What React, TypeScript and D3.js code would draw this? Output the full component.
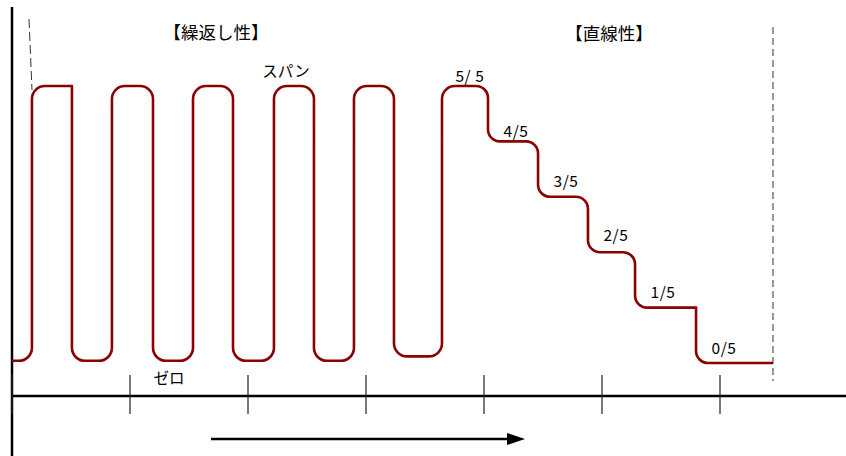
import React from "react";
import * as d3 from "d3";

// ---- data (schematic signal, x in time units, y in fraction-of-span levels) ----
const axisTicks = [0, 10, 20, 30, 40, 50, 60];
const repeatSwitchX = [1.69, 5.08, 8.47, 11.95, 15.34, 18.73, 22.2, 25.59, 28.98, 32.37, 36.44];
const repeatHigh = 5;
const repeatLows = [0.04, 0.04, 0.04, 0.04, 0.04, 0.12];
const stepX = [40.34, 44.58, 48.81, 52.8, 57.97];
const stepLevels = [5, 4, 3, 2, 1, 0];
const stepLabels = ["5/ 5", "4/5", "3/5", "2/5", "1/5", "0/5"];
const signalEndX = 64.49;
const headerLabels = ["【繰返し性】", "【直線性】"];
const spanLabel = "スパン";
const zeroLabel = "ゼロ";

// ---- layout ----
const W = 846;
const H = 456;
const FONT = "'Noto Sans CJK JP', 'Noto Sans', sans-serif";
const sharpVertices = new Set([3, 31]);
const labelDy = [10, 10, 15, 17, 15, 15];

export default function App() {
  const x = d3.scaleLinear().domain([0, 60]).range([12, 720]);
  const y = d3.scaleLinear().domain([0, 5]).range([363, 86]);

  // build vertex list
  const pts: [number, number][] = [];
  let lowIdx = 0;
  let cur = repeatLows[0];
  pts.push([0, cur]);
  repeatSwitchX.forEach((sx, i) => {
    const goingHigh = i % 2 === 0;
    const next = goingHigh ? repeatHigh : repeatLows[++lowIdx];
    pts.push([sx, cur]);
    pts.push([sx, next]);
    cur = next;
  });
  stepX.forEach((sx, j) => {
    pts.push([sx, stepLevels[j]]);
    pts.push([sx, stepLevels[j + 1]]);
  });
  pts.push([signalEndX, stepLevels[stepLevels.length - 1]]);

  const repeatVertexCount = 1 + repeatSwitchX.length * 2;
  const p = d3.path();
  const px = pts.map(([a, b]) => [x(a), y(b)] as [number, number]);
  p.moveTo(px[0][0], px[0][1]);
  for (let i = 1; i < px.length - 1; i++) {
    if (sharpVertices.has(i)) {
      p.lineTo(px[i][0], px[i][1]);
    } else {
      const r = i < repeatVertexCount ? 13 : 12;
      p.arcTo(px[i][0], px[i][1], px[i + 1][0], px[i + 1][1], r);
    }
  }
  p.lineTo(px[px.length - 1][0], px[px.length - 1][1]);

  // step label positions
  const segStarts = [repeatSwitchX[repeatSwitchX.length - 1], ...stepX];

  const axisY = 396;
  const axisX = 12;

  return (
    <svg
      width={W}
      height={H}
      style={{ position: "absolute", left: 0, top: 0, background: "#fff" }}
      fontFamily={FONT}
    >
      {/* dashed guides */}
      <line x1={29} y1={19} x2={32} y2={90} stroke="#333" strokeWidth={1} strokeDasharray="9,4" />
      <line x1={x(signalEndX)} y1={27} x2={x(signalEndX)} y2={381} stroke="#333" strokeWidth={1} strokeDasharray="7,4" />

      {/* axes */}
      <line x1={axisX} y1={7} x2={axisX} y2={H} stroke="#000" strokeWidth={2.5} />
      <line x1={axisX} y1={axisY} x2={W} y2={axisY} stroke="#000" strokeWidth={2.5} />
      {axisTicks.map((t) => (
        <line key={t} x1={x(t)} x2={x(t)} y1={375} y2={414} stroke="#222" strokeWidth={1.2} />
      ))}

      {/* time arrow */}
      <line x1={211} y1={439} x2={510} y2={439} stroke="#000" strokeWidth={2.5} />
      <path d="M525,439 L507,433 L507,445 Z" fill="#000" />

      {/* signal */}
      <path d={p.toString()} fill="none" stroke="#8B0000" strokeWidth={2.6} strokeLinejoin="round" />

      {/* labels */}
      <text x={216} y={39} fontSize={17.5} textAnchor="middle">{headerLabels[0]}</text>
      <text x={609} y={40} fontSize={17.5} textAnchor="middle">{headerLabels[1]}</text>
      <text x={286} y={77} fontSize={15.5} textAnchor="middle">{spanLabel}</text>
      <text x={169} y={384} fontSize={15.5} textAnchor="middle">{zeroLabel}</text>
      {stepLabels.map((lab, i) => (
        <text
          key={lab}
          x={x(segStarts[i]) + 28}
          y={y(stepLevels[i]) - labelDy[i] + 5.5}
          fontSize={15.5}
          textAnchor="middle"
          letterSpacing={0.6}
        >
          {lab}
        </text>
      ))}
    </svg>
  );
}
